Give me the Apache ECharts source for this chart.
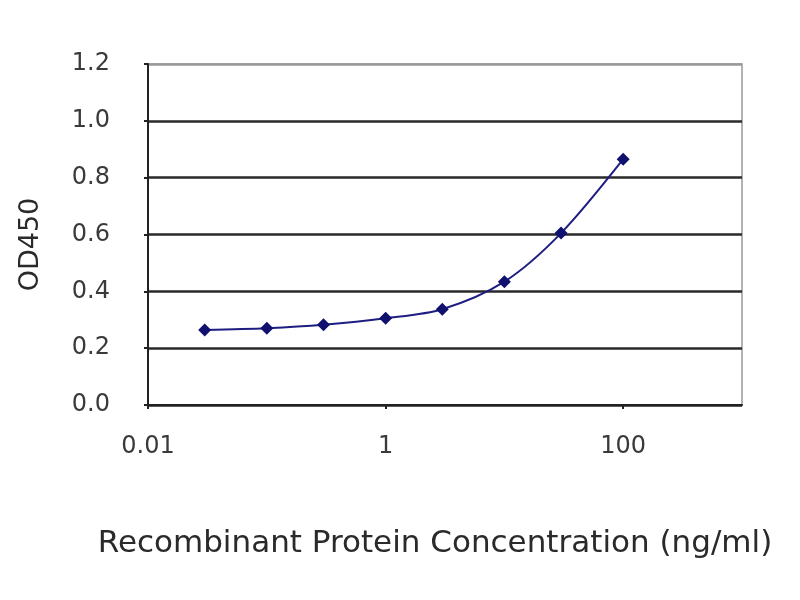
<!DOCTYPE html>
<html><head><meta charset="utf-8">
<script src="https://cdn.jsdelivr.net/npm/echarts@6/dist/echarts.min.js"></script>
<style>html,body{margin:0;padding:0;background:#fff}#c{width:800px;height:600px}</style>
</head><body><div id="c"></div>
<script>
const concentrations = [0.03, 0.1, 0.3, 1, 3, 10, 30, 100];
const od450 = [0.264, 0.27, 0.282, 0.305, 0.337, 0.434, 0.605, 0.865];
const xTickValues = [0.01, 1, 100];
const xTickLabels = ['0.01', '1', '100'];
const yTickLabels = ['0.0', '0.2', '0.4', '0.6', '0.8', '1.0', '1.2'];

const FONT = 'DejaVu Sans';
const chart = echarts.init(document.getElementById('c'));
chart.setOption({
  animation: false,
  backgroundColor: '#fff',
  grid: { left: 148, right: 58, top: 64, bottom: 195, show: true, borderColor: '#999', borderWidth: 1.5 },
  xAxis: {
    type: 'log', logBase: 10, min: 0.01, max: 1000,
    name: 'Recombinant Protein Concentration (ng/ml)',
    nameLocation: 'middle', nameGap: 123,
    nameTextStyle: { fontFamily: FONT, fontSize: 31, color: '#2a2a2a', padding: [0, 20, 0, 0] },
    axisLine: { lineStyle: { color: '#222', width: 2 } },
    axisTick: { show: true, length: 4, lineStyle: { color: '#222', width: 2 }, customValues: xTickValues },
    minorTick: { show: false },
    splitLine: { show: false },
    axisLabel: {
      margin: 30, fontFamily: FONT, fontSize: 24, color: '#3a3a3a',
      customValues: xTickValues,
      formatter: function (v) {
        const i = xTickValues.findIndex(t => Math.abs(Math.log10(t) - Math.log10(v)) < 1e-6);
        return i >= 0 ? xTickLabels[i] : '';
      }
    }
  },
  yAxis: {
    type: 'value', min: 0, max: 1.2, interval: 0.2,
    name: 'OD450', nameLocation: 'middle', nameGap: 104,
    nameTextStyle: { fontFamily: FONT, fontSize: 27, color: '#2a2a2a', padding: [0, 20, 0, 0] },
    axisLine: { show: true, lineStyle: { color: '#222', width: 2 } },
    axisTick: { show: true, length: 4, lineStyle: { color: '#222', width: 2 } },
    splitLine: { show: true, lineStyle: { color: ['#222', '#2a2a2a', '#2a2a2a', '#2a2a2a', '#2a2a2a', '#2a2a2a', '#999'], width: 2.5 } },
    axisLabel: {
      margin: 38, fontFamily: FONT, fontSize: 24, color: '#3a3a3a',
      formatter: function (v) { return yTickLabels[Math.round(v / 0.2)]; }
    }
  },
  series: [{
    type: 'line',
    data: concentrations.map((c, i) => [c, od450[i]]),
    smooth: 0.3,
    symbol: 'diamond', symbolSize: 13,
    lineStyle: { color: '#1e1e82', width: 2 },
    itemStyle: { color: '#10106e' }
  }]
});
</script></body></html>
